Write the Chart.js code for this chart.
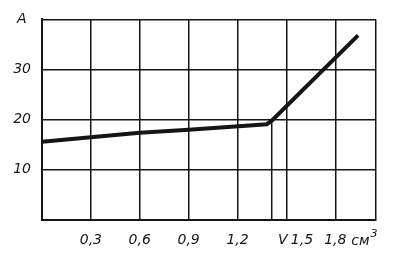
<!DOCTYPE html>
<html>
<head>
<meta charset="utf-8">
<script src="https://cdn.jsdelivr.net/npm/chart.js@4"></script>
<style>
    html, body { margin: 0; padding: 0; background: #fff; }
    #wrap { width: 396px; height: 256px; }
</style>
</head>
<body>
<div id="wrap"><canvas id="chart" width="396" height="256"></canvas></div>
<script>
// values
const xTicks = [0, 0.3, 0.6, 0.9, 1.2, 1.41, 1.5, 1.8, 2.05];
const xTickLabels = ['', '0,3', '0,6', '0,9', '1,2', '     V', '       1,5', '1,8', ''];
const yTicks = [0, 10, 20, 30, 40];
const yTickLabels = ['', '10', '20', '30', 'A '];
const curveX = [0, 0.3, 0.6, 0.9, 1.38, 1.41, 1.94];
const curveY = [15.6, 16.5, 17.4, 18.0, 19.1, 19.8, 36.8];
const markerX = [1.41, 1.41];
const markerY = [0, 19.6];
const unitLabel = 'см';
const unitPower = '3';

const INK = '#151515';
const FAMILY = '"DejaVu Sans", "Liberation Sans", sans-serif';

const toPoints = (xs, ys) => xs.map((x, i) => ({ x: x, y: ys[i] }));

const unitPlugin = {
    id: 'unit',
    afterDraw(chart) {
        const ctx = chart.ctx;
        const xs = chart.scales.x;
        const px = xs.getPixelForValue(1.8) + 16;
        const py = 245;
        ctx.save();
        ctx.fillStyle = INK;
        ctx.font = 'italic 14px ' + FAMILY;
        ctx.textBaseline = 'alphabetic';
        ctx.fillText(unitLabel, px, py);
        const w = ctx.measureText(unitLabel).width;
        ctx.font = 'italic 11px ' + FAMILY;
        ctx.fillText(unitPower, px + w + 1, py - 8);
        ctx.restore();
    }
};

new Chart(document.getElementById('chart').getContext('2d'), {
    type: 'scatter',
    data: {
        datasets: [
            {
                data: toPoints(curveX, curveY),
                showLine: true,
                borderColor: INK,
                borderWidth: 4,
                pointRadius: 0,
                tension: 0
            },
            {
                data: toPoints(markerX, markerY),
                showLine: true,
                borderColor: INK,
                borderWidth: 1.5,
                pointRadius: 0
            }
        ]
    },
    options: {
        responsive: false,
        animation: false,
        events: [],
        layout: { padding: { top: 19, right: 20, left: 0, bottom: 0 } },
        plugins: { legend: { display: false }, tooltip: { enabled: false } },
        scales: {
            x: {
                type: 'linear',
                min: 0,
                max: 2.05,
                afterBuildTicks: axis => { axis.ticks = xTicks.map(v => ({ value: v })); },
                afterFit: axis => { axis.height = 36; },
                border: { display: true, color: INK, width: 2 },
                grid: {
                    color: c => (c.tick && c.tick.value === 1.41) ? 'rgba(0,0,0,0)' : INK,
                    lineWidth: 1.5,
                    drawTicks: false
                },
                ticks: {
                    autoSkip: false,
                    maxRotation: 0,
                    padding: 12,
                    color: INK,
                    font: { family: FAMILY, size: 14, style: 'italic' },
                    callback: (v, i) => xTickLabels[i]
                }
            },
            y: {
                min: 0,
                max: 40,
                afterBuildTicks: axis => { axis.ticks = yTicks.map(v => ({ value: v })); },
                afterFit: axis => { axis.width = 42; },
                border: { display: true, color: INK, width: 2 },
                grid: { color: INK, lineWidth: 1.5, drawTicks: false },
                ticks: {
                    padding: 11,
                    color: INK,
                    font: { family: FAMILY, size: 14, style: 'italic' },
                    callback: (v, i) => yTickLabels[i]
                }
            }
        }
    },
    plugins: [unitPlugin]
});
</script>
</body>
</html>
